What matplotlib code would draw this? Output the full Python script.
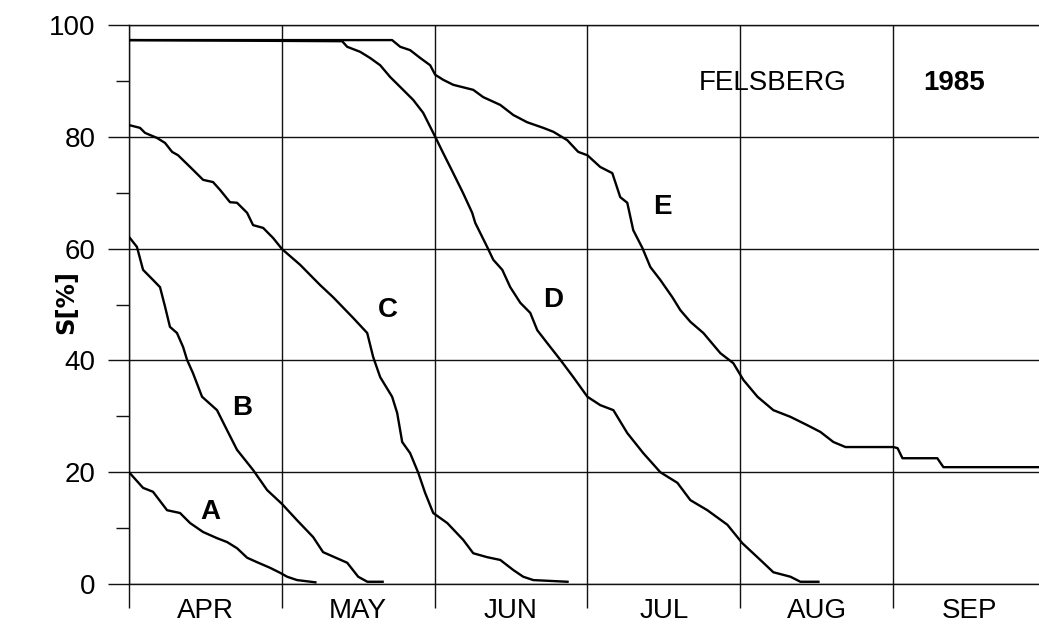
import matplotlib
matplotlib.use("Agg")
import matplotlib.pyplot as plt
from matplotlib.ticker import MultipleLocator, FixedLocator, NullFormatter

# x in months since 1 April, y = S [%]
months = ["APR", "MAY", "JUN", "JUL", "AUG", "SEP"]

A_x = [0, 0.092, 0.157, 0.249, 0.334, 0.40, 0.485, 0.576, 0.642, 0.707, 0.773, 0.838,
       0.923, 0.989, 1.035, 1.10, 1.22]
A_y = [20.0, 17.2, 16.5, 13.2, 12.7, 10.9, 9.3, 8.2, 7.5, 6.4, 4.7, 3.9,
       2.9, 2.0, 1.3, 0.7, 0.3]

B_x = [0, 0.052, 0.092, 0.157, 0.203, 0.236, 0.268, 0.314, 0.354, 0.38, 0.419, 0.478,
       0.576, 0.642, 0.707, 0.812, 0.904, 1.002, 1.10, 1.205, 1.27, 1.428, 1.50, 1.56, 1.66]
B_y = [62.1, 60.3, 56.2, 54.4, 53.1, 49.6, 46.0, 44.9, 42.4, 40.1, 37.7, 33.5,
       31.1, 27.5, 24.0, 20.4, 16.8, 14.3, 11.4, 8.4, 5.7, 3.8, 1.3, 0.4, 0.4]

C_x = [0, 0.072, 0.105, 0.183, 0.236, 0.282, 0.321, 0.40, 0.485, 0.55, 0.596, 0.661,
       0.707, 0.773, 0.812, 0.878, 0.943, 1.002, 1.12, 1.25, 1.336, 1.467, 1.559, 1.598,
       1.644, 1.722, 1.755, 1.788, 1.84, 1.893, 1.938, 1.991, 2.083, 2.187, 2.253, 2.344,
       2.43, 2.515, 2.58, 2.646, 2.87]
C_y = [82.1, 81.6, 80.7, 79.8, 78.9, 77.3, 76.7, 74.6, 72.3, 71.9, 70.5, 68.3,
       68.2, 66.4, 64.2, 63.7, 61.9, 59.9, 57.1, 53.5, 51.3, 47.6, 44.9, 40.6,
       37.0, 33.5, 30.6, 25.4, 23.4, 19.9, 16.3, 12.7, 10.9, 7.9, 5.5, 4.8,
       4.3, 2.5, 1.3, 0.7, 0.4]

D_x = [0, 1.395, 1.428, 1.513, 1.578, 1.644, 1.709, 1.794, 1.86, 1.925, 1.971, 2.004,
       2.056, 2.122, 2.187, 2.246, 2.266, 2.344, 2.384, 2.443, 2.495, 2.561, 2.626, 2.672,
       2.737, 2.823, 2.908, 3.0, 3.084, 3.17, 3.261, 3.366, 3.477, 3.589, 3.674, 3.785,
       3.916, 4.014, 4.132, 4.217, 4.329, 4.394, 4.512]
D_y = [97.3, 97.1, 96.1, 95.2, 94.1, 92.8, 90.7, 88.4, 86.6, 84.3, 81.8, 80.0,
       77.1, 73.5, 69.9, 66.4, 64.6, 60.3, 58.0, 56.2, 53.1, 50.3, 48.5, 45.4,
       43.1, 40.1, 37.0, 33.5, 32.0, 31.1, 27.0, 23.4, 20.0, 18.1, 15.0, 13.2,
       10.6, 7.3, 4.3, 2.1, 1.3, 0.4, 0.4]

E_x = [0, 1.722, 1.775, 1.84, 1.906, 1.971, 2.004, 2.056, 2.122, 2.253, 2.318, 2.43,
       2.515, 2.606, 2.711, 2.777, 2.868, 2.94, 3.0, 3.084, 3.163, 3.215, 3.261, 3.30,
       3.36, 3.412, 3.477, 3.556, 3.608, 3.674, 3.759, 3.87, 3.955, 4.021, 4.113, 4.217,
       4.329, 4.44, 4.525, 4.61, 4.689, 5.003, 5.03, 5.062, 5.29, 5.33, 6.0]
E_y = [97.3, 97.3, 96.1, 95.5, 94.1, 92.8, 91.1, 90.2, 89.3, 88.4, 87.1, 85.7,
       83.9, 82.6, 81.6, 80.9, 79.4, 77.3, 76.7, 74.6, 73.5, 69.2, 68.2, 63.3,
       60.1, 56.7, 54.4, 51.3, 49.0, 46.9, 44.9, 41.3, 39.5, 36.5, 33.5, 31.1,
       29.9, 28.4, 27.2, 25.4, 24.5, 24.5, 24.3, 22.5, 22.5, 20.9, 20.9]

curve_labels = ["A", "B", "C", "D", "E"]
label_x = [0.53, 0.74, 1.696, 2.777, 3.49]
label_y = [12.9, 31.5, 49.0, 50.8, 67.4]

W, H = 1039, 627
fig = plt.figure(figsize=(W / 100, H / 100), dpi=100)
ax = fig.add_axes([129 / W, (H - 584) / H, 6 * 152.8 / W, (584 - 25) / H])
plt.rcParams['font.family'] = ['Liberation Sans', 'DejaVu Sans']
fs = 20

for xs, ys in [(A_x, A_y), (B_x, B_y), (C_x, C_y), (D_x, D_y), (E_x, E_y)]:
    ax.plot(xs, ys, color="black", lw=1.7, solid_joinstyle="round", zorder=3)

ax.set_xlim(0, 6)
ax.set_ylim(0, 100)

gcol = "#111111"
glw = 1.0
ax.xaxis.set_major_locator(MultipleLocator(1))
ax.xaxis.set_major_formatter(NullFormatter())
ax.xaxis.set_minor_locator(FixedLocator([i + 0.5 for i in range(6)]))
ax.set_xticklabels(months, minor=True, family=['Liberation Sans'], fontsize=fs)
ax.tick_params(axis="x", which="major", length=17, width=glw, color=gcol, direction="out")
ax.tick_params(axis="x", which="minor", length=0, pad=10)

ax.yaxis.set_major_locator(MultipleLocator(20))
ax.yaxis.set_minor_locator(MultipleLocator(10))
ax.tick_params(axis="y", which="major", length=15, width=glw, color=gcol, pad=9,
               labelsize=fs)
ax.tick_params(axis="y", which="minor", length=9.5, width=glw, color=gcol)
for lab in ax.get_yticklabels():
    lab.set_family(['Liberation Sans'])

ax.grid(True, which="major", color=gcol, lw=glw)
for s in ["right"]:
    ax.spines[s].set_visible(False)
for s in ["left", "top", "bottom"]:
    ax.spines[s].set_color(gcol)
    ax.spines[s].set_linewidth(glw)

ax.set_ylabel("S[%]", fontsize=17.5, fontweight="bold", va="center")
ax.yaxis.set_label_coords((66 - 129) / (6 * 152.8), 0.505)

for t, x, y in zip(curve_labels, label_x, label_y):
    ax.text(x, y, t, fontsize=fs, fontweight="bold", ha="center", va="center", zorder=4)

ax.text(4.21, 89.6, "FELSBERG", fontsize=fs, ha="center", va="center")
ax.text(5.40, 89.6, "1985", fontsize=fs, fontweight="bold", ha="center", va="center")

fig.savefig("out.png", dpi=100)
